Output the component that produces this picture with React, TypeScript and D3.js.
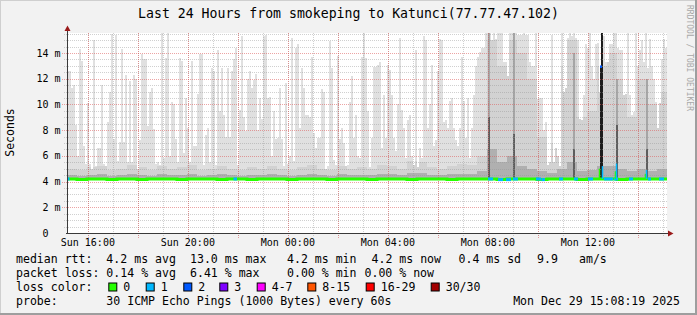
import React from "react";
import * as d3 from "d3";

// ---------------- data ----------------
const chartTitle = "Last 24 Hours from smokeping to Katunci(77.77.47.102)";
const yAxisTitle = "Seconds";
const watermark = "RRDTOOL / TOBI OETIKER";
const startTime = new Date(2025, 11, 28, 15, 10);
const endTime = new Date(2025, 11, 29, 15, 10);
const yMax = 15.55; // ms
const yTickValues = [0, 2, 4, 6, 8, 10, 12, 14];

// highest ping per 4.8-minute column (ms)
const smokeMax = [
  12.6, 12.6, 11.3, 11.5, 8.4, 6.0, 14.3, 13.4, 6.8, 5.4,
  10.1, 5.4, 5.0, 15.0, 5.2, 6.6, 6.6, 11.5, 5.4, 5.2,
  8.6, 11.0, 15.5, 7.3, 15.4, 5.6, 7.1, 14.3, 7.1, 12.3,
  5.5, 11.8, 5.5, 12.3, 12.0, 5.0, 7.2, 13.9, 13.5, 13.5,
  8.3, 11.0, 11.3, 8.1, 5.4, 5.5, 5.3, 16, 5.8, 13.6,
  16, 6.0, 10.2, 10.0, 7.3, 5.5, 13.6, 13.4, 6.2, 10.5,
  8.2, 5.5, 13.4, 6.8, 6.8, 10.8, 13.9, 13.9, 5.3, 7.6,
  8.2, 5.5, 12.8, 12.6, 5.3, 14.2, 9.5, 12.8, 9.2, 7.5,
  12.8, 7.5, 12.6, 13.5, 14.4, 5.3, 9.6, 15.3, 9.0, 7.9,
  12.0, 12.6, 11.3, 11.9, 12.4, 8.0, 10.5, 8.9, 15.3, 15.4,
  10.5, 10.6, 6.0, 9.5, 7.3, 7.4, 11.3, 7.3, 5.2, 11.7,
  5.4, 6.0, 15.2, 5.6, 14.4, 14.7, 8.2, 12.8, 11.3, 9.2,
  9.2, 9.0, 13.7, 7.8, 6.6, 7.4, 7.4, 11.2, 11.0, 5.0,
  5.2, 14.9, 12.8, 5.7, 5.3, 13.8, 7.3, 8.2, 7.0, 5.2,
  5.3, 10.2, 12.2, 7.4, 9.2, 6.0, 5.8, 13.7, 16, 13.6,
  9.5, 5.1, 7.4, 12.9, 12.9, 13.1, 13.3, 6.6, 10.7, 7.4,
  13.1, 12.7, 10.7, 7.4, 6.4, 10.0, 15.2, 9.6, 8.2, 5.8,
  8.8, 9.2, 6.0, 5.3, 14.2, 5.1, 6.6, 5.8, 15.3, 15.0,
  8.2, 10.0, 13.1, 6.8, 7.2, 12.6, 15.1, 15.0, 8.6, 8.8,
  8.2, 10.3, 10.5, 8.2, 7.2, 6.8, 8.2, 13.7, 10.3, 7.4,
  10.5, 5.8, 8.2, 10.7, 13.0, 13.7, 14.1, 14.4, 14.4, 16,
  16, 16, 15.0, 16, 15.1, 16, 16, 16, 13.3, 13.3,
  12.2, 16, 16, 16, 16, 15.4, 15.4, 15.4, 16, 15.4,
  15.4, 13.3, 13.0, 13.0, 16, 10.4, 10.5, 10.5, 8.0, 8.6,
  5.3, 5.5, 15.4, 5.5, 6.6, 6.0, 5.2, 16, 11.0, 11.3,
  15.2, 16, 15.3, 16, 15.2, 15.0, 8.9, 8.8, 10.7, 14.7,
  14.4, 16, 13.0, 12.0, 14.7, 14.8, 11.0, 16, 15.3, 13.3,
  13.3, 14.7, 14.7, 16, 16, 14.4, 14.2, 14.2, 10.7, 10.8,
  16, 10.7, 9.2, 9.4, 16, 13.0, 14.2, 15.0, 13.3, 16,
  12.8, 15.1, 13.0, 12.0, 10.2, 8.2, 10.1, 13.5, 15.1, 14.4,
];

// upper quartile-ish ping per 24-minute block (ms)
const smokeMid = [
  5.0, 4.9, 5.1, 5.2, 4.9, 5.0, 5.3, 5.1, 4.9, 5.2,
  5.0, 5.1, 5.3, 4.9, 5.0, 5.2, 5.0, 4.9, 5.1, 5.0,
  5.2, 5.0, 4.9, 5.1, 5.3, 5.0, 4.9, 5.2, 5.0, 5.1,
  5.0, 5.3, 5.2, 5.0, 5.6, 5.5, 5.1, 5.0, 5.2, 5.4,
  5.3, 6.0, 15, 13, 15, 14, 12, 7.5, 7.0, 13,
  15, 9.0, 9.5, 13, 14, 12, 9.0, 12, 10, 11,
];

// inner ping band per 24-minute block (ms)
const smokeInner = [
  4.5, 4.45, 4.5, 4.55, 4.45, 4.5, 4.6, 4.5, 4.45, 4.55,
  4.5, 4.5, 4.6, 4.45, 4.5, 4.55, 4.5, 4.45, 4.5, 4.5,
  4.55, 4.5, 4.45, 4.5, 4.6, 4.5, 4.45, 4.55, 4.5, 4.5,
  4.5, 4.6, 4.55, 4.5, 4.7, 4.7, 4.5, 4.5, 4.55, 4.6,
  4.6, 4.8, 6.5, 5.5, 6.0, 5.2, 5.0, 4.8, 4.7, 5.0,
  5.5, 4.8, 4.9, 5.2, 5.2, 5.0, 4.8, 5.0, 4.8, 5.0,
];

// median rtt per 24-minute block (ms)
const medianRtt = [
  4.2, 4.15, 4.2, 4.2, 4.15, 4.2, 4.2, 4.15, 4.2, 4.2,
  4.2, 4.15, 4.2, 4.2, 4.2, 4.15, 4.2, 4.2, 4.15, 4.2,
  4.2, 4.2, 4.15, 4.2, 4.2, 4.2, 4.15, 4.2, 4.2, 4.2,
  4.15, 4.2, 4.2, 4.2, 4.15, 4.2, 4.2, 4.2, 4.15, 4.2,
  4.2, 4.2, 4.2, 4.15, 4.2, 4.2, 4.2, 4.15, 4.2, 4.2,
  4.2, 4.15, 4.2, 4.2, 4.2, 4.15, 4.2, 4.2, 4.2, 4.2,
];

// periods with lost pings: [start hour, end hour, lost count]
const lossRuns = [
  [0, 0.1, 1], [6.66, 6.8, 1], [16.84, 17.04, 1], [17.24, 17.44, 1],
  [17.56, 17.76, 1], [17.84, 18.04, 1], [18.76, 18.96, 1], [18.98, 19.12, 1],
  [19.68, 19.84, 1], [20.28, 20.44, 1], [20.84, 21.04, 1], [21.48, 21.84, 1],
  [21.88, 22.04, 1], [22.48, 22.64, 1], [23.24, 23.36, 1], [23.68, 23.88, 1],
];

// single median excursions: [hour, ms, lost count]
const medianSpikes = [
  [21.3, 5.0, 0], [21.36, 12.95, 2], [21.42, 5.2, 1],
  [21.94, 4.8, 0], [21.98, 5.4, 1], [23.14, 4.6, 0], [23.18, 4.9, 1],
];

// dense dark smoke streaks: [start hour, end hour, top ms, darkness]
const darkStreaks = [
  [16.82, 16.92, 16, 1], [16.84, 16.92, 9.0, 2],
  [17.82, 17.92, 16, 1], [17.84, 17.92, 7.7, 2],
  [20.22, 20.32, 14, 1], [20.24, 20.3, 6.5, 2],
  [21.33, 21.45, 12.95, 3], [21.37, 21.43, 16, 3],
  [21.94, 22.04, 12, 1], [21.95, 22.03, 8.4, 2],
  [23.14, 23.24, 12, 1], [23.16, 23.22, 6.5, 2],
];

const rttStats = [4.2, 13.0, 4.2, 4.2];
const rttSd = 0.4;
const rttAmps = 9.9;
const lossStats = [0.14, 6.41, 0.0, 0.0];
const statNames = ["avg", "max", "min", "now"];
const lossLabels = ["0", "1", "2", "3", "4-7", "8-15", "16-29", "30/30"];
const lossColors = ["#26ff00", "#00b8ff", "#0059ff", "#7e00ff", "#ff00ff", "#ff5500", "#ff0000", "#a10000"];
const probeText = "30 ICMP Echo Pings (1000 Bytes) every 60s";
const stampText = "Mon Dec 29 15:08:19 2025";

// ---------------- chart ----------------
const MONO = "'DejaVu Sans Mono', monospace";
const HOUR = 3600e3;
const atHour = (h: number) => new Date(startTime.getTime() + h * HOUR);

export default function App() {
  const L = 67, R = 667, T = 33, B = 233;
  const x = d3.scaleTime().domain([startTime, endTime]).range([L, R]);
  const y = d3.scaleLinear().domain([0, yMax]).range([B, T]);
  const span = endTime.getTime() - startTime.getTime();
  const tAt = (i: number, n: number) => new Date(startTime.getTime() + (i * span) / n);

  const nMax = smokeMax.length;
  const nBlk = smokeMid.length;
  const blockOf = (i: number) => Math.min(nBlk - 1, Math.floor((i * nBlk) / nMax));

  const smokeCols = smokeMax.map((v, i) => {
    const j = blockOf(i);
    const base = medianRtt[j];
    const mid = Math.min(smokeMid[j], v);
    const inner = Math.min(smokeInner[j], mid);
    return { x0: x(tAt(i, nMax)), x1: x(tAt(i + 1, nMax)), base, top: v, mid, inner };
  });

  const streakColors = ["", "#a6a6a6", "#5e5e5e", "#1c1c1c"];

  const minorY = d3.range(0.5, yMax, 0.5).filter((v) => v % 2 !== 0);
  const majorY = yTickValues.filter((v) => v > 0);
  const hours = d3.timeHour.range(startTime, endTime);
  const majorX = d3.timeHour.every(2)!.range(startTime, endTime);
  const labelX = d3.timeHour.every(4)!.range(startTime, endTime);
  const fmt = d3.timeFormat("%a %H:%M");

  const medPts = medianRtt.map((v, j) => [x(tAt(j, nBlk)), y(v)] as [number, number]);
  medPts.push([x(endTime), y(medianRtt[nBlk - 1])]);
  const medLine = d3.line().curve(d3.curveStepAfter)(medPts) || "";
  const medAt = (h: number) => medianRtt[Math.min(nBlk - 1, Math.floor((h / 24) * nBlk))];

  const minorColor = "rgba(150,150,150,0.45)";
  const majorColor = "rgba(220,90,90,0.55)";

  // legend layout
  const cw = 6.95;
  const lx = 16;
  const f1 = (v: number) => v.toFixed(1);
  const f2 = (v: number) => v.toFixed(2);
  const line1 = [
    { t: `median rtt:  ${f1(rttStats[0])} ms ${statNames[0]}`, x: lx },
    { t: `${f1(rttStats[1])} ms ${statNames[1]}`, x: 190 },
    { t: `${f1(rttStats[2])} ms ${statNames[2]}`, x: 287 },
    { t: `${f1(rttStats[3])} ms ${statNames[3]}`, x: 371.5 },
    { t: `${f1(rttSd)} ms sd`, x: 458.5 },
    { t: f1(rttAmps), x: 537 },
    { t: "am/s", x: 579 },
  ];
  const line2 = [
    { t: `packet loss: ${f2(lossStats[0])} % ${statNames[0]}`, x: lx },
    { t: `${f2(lossStats[1])} % ${statNames[1]}`, x: 190 },
    { t: `${f2(lossStats[2])} % ${statNames[2]}`, x: 287 },
    { t: `${f2(lossStats[3])} % ${statNames[3]}`, x: 364.5 },
  ];
  const boxXs = [108.3, 145.7, 183.3, 219.3, 256.7, 307.3, 365.7, 430.7];

  return (
    <svg
      width={697}
      height={315}
      viewBox="0 0 697 315"
      style={{ position: "absolute", left: 0, top: 0, display: "block" }}
      xmlns="http://www.w3.org/2000/svg"
    >
      <defs>
        <clipPath id="plotClip">
          <rect x={L} y={T} width={R - L} height={B - T} />
        </clipPath>
      </defs>
      {/* background with shade borders */}
      <rect x={0} y={0} width={697} height={315} fill="#f2f2f2" />
      <rect x={0} y={0} width={697} height={1} fill="#cfcfcf" />
      <rect x={0} y={0} width={1} height={315} fill="#cfcfcf" />
      <rect x={695} y={0} width={2} height={315} fill="#9e9e9e" />
      <rect x={0} y={313} width={697} height={2} fill="#9e9e9e" />

      {/* canvas */}
      <rect x={L} y={T} width={R - L} height={B - T} fill="#ffffff" />

      {/* smoke */}
      <g clipPath="url(#plotClip)" shapeRendering="crispEdges">
        {smokeCols.map((c, i) => (
          <rect key={"o" + i} x={c.x0} width={c.x1 - c.x0} y={y(c.top)} height={y(c.base) - y(c.top)} fill="#e0e0e0" />
        ))}
        {smokeCols.map((c, i) => (
          <rect key={"m" + i} x={c.x0} width={c.x1 - c.x0} y={y(c.mid)} height={Math.max(0, y(c.base) - y(c.mid))} fill="#d2d2d2" />
        ))}
        {smokeCols.map((c, i) => (
          <rect key={"n" + i} x={c.x0} width={c.x1 - c.x0} y={y(c.inner)} height={Math.max(0, y(c.base) - y(c.inner))} fill="#b0b0b0" />
        ))}
        {darkStreaks.map((s, i) => {
          const x0 = x(atHour(s[0]));
          const x1 = x(atHour(s[1]));
          return (
            <rect key={"s" + i} x={x0} width={x1 - x0} y={y(s[2])} height={y(4.2) - y(s[2])} fill={streakColors[s[3]]} />
          );
        })}
      </g>

      {/* grid */}
      <g strokeDasharray="1,1" strokeWidth={1} fill="none">
        {minorY.map((v) => (
          <line key={"hy" + v} x1={L - 3} x2={R} y1={Math.round(y(v)) + 0.5} y2={Math.round(y(v)) + 0.5} stroke={minorColor} />
        ))}
        {hours.map((d) => (
          <line key={"hx" + d.getTime()} x1={Math.round(x(d)) + 0.5} x2={Math.round(x(d)) + 0.5} y1={T} y2={B + 3} stroke={minorColor} />
        ))}
        {majorY.map((v) => (
          <line key={"my" + v} x1={L - 5} x2={R} y1={Math.round(y(v)) + 0.5} y2={Math.round(y(v)) + 0.5} stroke={majorColor} />
        ))}
        {majorX.map((d) => (
          <line key={"mx" + d.getTime()} x1={Math.round(x(d)) + 0.5} x2={Math.round(x(d)) + 0.5} y1={T} y2={B + 5} stroke={majorColor} />
        ))}
      </g>

      {/* median line */}
      <g clipPath="url(#plotClip)">
        <path d={medLine} fill="none" stroke={lossColors[0]} strokeWidth={3} />
        {lossRuns.map((r, i) => {
          const v = medAt(r[0]);
          return (
            <line key={"l" + i} x1={x(atHour(r[0]))} x2={x(atHour(r[1]))} y1={y(v)} y2={y(v)} stroke={lossColors[r[2]]} strokeWidth={3} />
          );
        })}
        {medianSpikes.map((s, i) => {
          const xx = x(atHour(s[0]));
          if (s[1] > 8) {
            return <rect key={"k" + i} x={xx - 1} y={y(s[1]) - 1} width={2} height={2.5} fill={lossColors[s[2]]} />;
          }
          return (
            <line key={"k" + i} x1={xx} x2={xx} y1={y(4.2)} y2={y(s[1])} stroke={lossColors[s[2]]} strokeWidth={1.5} />
          );
        })}
      </g>

      {/* axes */}
      <line x1={L + 0.5} x2={L + 0.5} y1={B + 1} y2={T - 4} stroke="#3a3a3a" strokeWidth={1} />
      <line x1={L - 1} x2={R + 3} y1={B + 0.5} y2={B + 0.5} stroke="#3a3a3a" strokeWidth={1} />
      <polygon points={`${L - 2.5},${T - 2} ${L + 3.5},${T - 2} ${L + 0.5},${T - 7.5}`} fill="#9a1a1a" />
      <polygon points={`${R + 1},${B - 2.5} ${R + 1},${B + 3.5} ${R + 6.5},${B + 0.5}`} fill="#9a1a1a" />

      {/* y tick labels */}
      <g fontFamily={MONO} fontSize={10} fill="#000">
        {yTickValues.map((v) => (
          <g key={"yl" + v}>
            <text x={48.6} y={y(v) + 3.6} textAnchor="end">{String(v)}</text>
            {v > 0 && <text x={54.6} y={y(v) + 3.6}>m</text>}
          </g>
        ))}
        {labelX.map((d) => (
          <text key={"xl" + d.getTime()} x={x(d)} y={246} textAnchor="middle">{fmt(d)}</text>
        ))}
      </g>

      {/* titles */}
      <text x={348.5} y={18} textAnchor="middle" fontFamily={MONO} fontSize={13.2} fill="#000">{chartTitle}</text>
      <text transform="translate(14.3,132.5) rotate(-90)" textAnchor="middle" fontFamily={MONO} fontSize={11.5} fill="#000">{yAxisTitle}</text>
      <text transform="translate(686.5,5) rotate(90)" fontFamily={MONO} fontSize={8} fill="#a8a8a8">{watermark}</text>

      {/* legend */}
      <g fontFamily={MONO} fontSize={11.55} fill="#000" style={{ whiteSpace: "pre" }}>
        {line1.map((s, i) => (
          <text key={"a" + i} x={s.x} y={263} xmlSpace="preserve">{s.t}</text>
        ))}
        {line2.map((s, i) => (
          <text key={"b" + i} x={s.x} y={277} xmlSpace="preserve">{s.t}</text>
        ))}
        <text x={lx} y={291}>loss color:</text>
        {lossLabels.map((lab, i) => (
          <g key={"c" + i}>
            <rect x={boxXs[i] + 0.5} y={283} width={8} height={8} fill={lossColors[i]} stroke="#000" strokeWidth={1} />
            <text x={boxXs[i] + 15} y={291}>{lab}</text>
          </g>
        ))}
        <text x={lx} y={305}>probe:</text>
        <text x={lx + 13 * cw} y={305}>{probeText}</text>
        <text x={680} y={305} textAnchor="end">{stampText}</text>
      </g>
    </svg>
  );
}
